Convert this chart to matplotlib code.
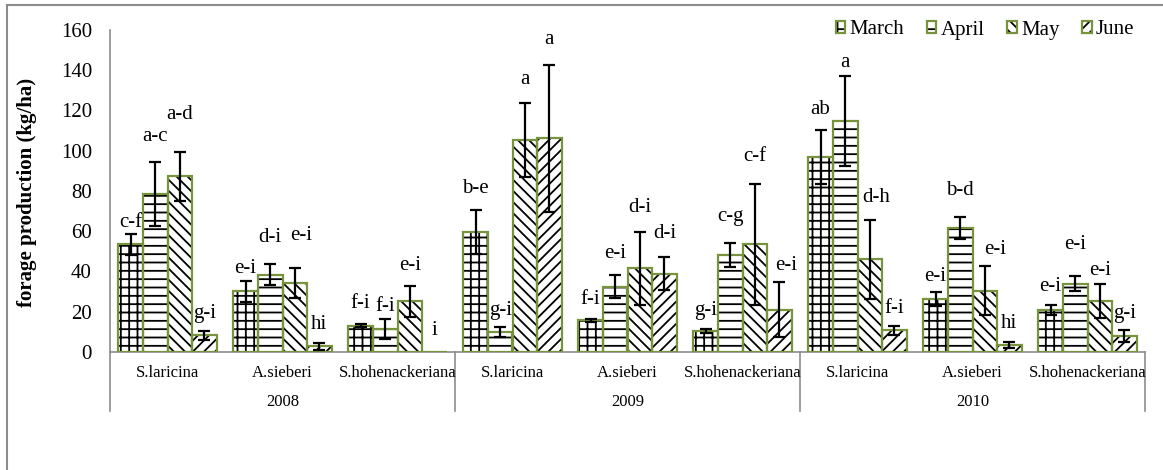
import numpy as np
import matplotlib
matplotlib.use('Agg')
import matplotlib.pyplot as plt
from matplotlib.lines import Line2D
from matplotlib.legend_handler import HandlerTuple
import matplotlib.transforms as mtransforms

plt.rcParams['font.family'] = ['Liberation Serif', 'DejaVu Serif']
plt.rcParams['hatch.linewidth'] = 1.3

species = ['S.laricina', 'A.sieberi', 'S.hohenackeriana'] * 3
years = ['2008', '2009', '2010']
months = ['March', 'April', 'May', 'June']

march = [53.5, 30.2, 13.0, 59.6, 15.7, 10.2, 96.9, 26.2, 21.1]
april = [78.4, 38.3, 11.4, 9.9, 32.5, 48.2, 114.7, 61.6, 34.0]
may = [87.3, 34.3, 25.2, 105.4, 41.6, 53.5, 46.0, 30.5, 25.4]
june = [8.3, 2.8, 0.0, 106.3, 38.9, 21.0, 10.7, 3.5, 7.8]

march_err = [5.3, 5.2, 0.8, 10.9, 0.9, 1.0, 13.5, 3.4, 2.5]
april_err = [16.0, 5.2, 5.0, 2.6, 5.9, 5.8, 22.4, 5.6, 3.8]
may_err = [12.2, 7.3, 7.6, 18.5, 18.0, 30.0, 19.8, 12.0, 8.3]
june_err = [2.2, 1.7, 0.0, 36.5, 8.2, 13.7, 2.3, 1.7, 3.0]

march_lab = ['c-f', 'e-i', 'f-i', 'b-e', 'f-i', 'g-i', 'ab', 'e-i', 'e-i']
april_lab = ['a-c', 'd-i', 'f-i', 'g-i', 'e-i', 'c-g', 'a', 'b-d', 'e-i']
may_lab = ['a-d', 'e-i', 'e-i', 'a', 'd-i', 'c-f', 'd-h', 'e-i', 'e-i']
june_lab = ['g-i', 'hi', 'i', 'a', 'd-i', 'e-i', 'f-i', 'hi', 'g-i']

# where the letters sit (data units, text centre)
march_ly = [64.4, 41.3, 23.9, 81.2, 25.9, 20.5, 120.3, 37.5, 32.5]
april_ly = [107, 57, 22.6, 20.5, 49, 67.5, 143.9, 80.4, 53.6]
may_ly = [118, 57.8, 42.9, 135.6, 71.6, 96.9, 77, 50.7, 40.4]
june_ly = [19.3, 13.5, 10.7, 155.4, 58.9, 43.2, 21.8, 14.4, 19]

values = [march, april, may, june]
errors = [march_err, april_err, may_err, june_err]
letters = [march_lab, april_lab, may_lab, june_lab]
letter_y = [march_ly, april_ly, may_ly, june_ly]
# a few letters are nudged sideways in the original (in bar widths)
letter_dx = {(2, 1): 0.25, (3, 5): 0.28, (2, 6): 0.26, (2, 7): 0.4}

hatches = ['++', '--', '\\\\\\', '///']
green = '#77933C'
grey = '#8C8C8C'

fig = plt.figure(figsize=(11.63, 4.70), dpi=100)
ax = fig.add_axes([110 / 1163, 1 - 352 / 470, 1035 / 1163, 322 / 470])

x = np.arange(len(species))
w = 0.214
handles = []
for i, m in enumerate(months):
    xs = x + (i - 1.5) * w
    hb = ax.bar(xs, values[i], w, color='white', edgecolor='black',
                hatch=hatches[i], linewidth=0, zorder=2)
    ob = ax.bar(xs, values[i], w, color='none', edgecolor=green,
                linewidth=1.6, zorder=3)
    handles.append((hb[0], ob[0]))
    err = np.array(errors[i])
    keep = err > 0
    ax.errorbar(xs[keep], np.array(values[i])[keep], yerr=err[keep], fmt='none',
                ecolor='black', elinewidth=1.6, capsize=4, capthick=1.6, zorder=4)
    for j in range(len(species)):
        dx = letter_dx.get((i, j), 0) * w
        ax.text(xs[j] + dx, letter_y[i][j], letters[i][j], ha='center',
                va='center', fontsize=15, zorder=5)

ax.set_xlim(-0.5, len(species) - 0.5)
ax.set_ylim(0, 160)
ax.set_yticks(range(0, 161, 20))
ax.tick_params(axis='y', length=0, labelsize=15, pad=13)
ax.set_xticks([])
for s in ['top', 'right']:
    ax.spines[s].set_visible(False)
for s in ['left', 'bottom']:
    ax.spines[s].set_color(grey)
    ax.spines[s].set_linewidth(1.2)
ax.set_ylabel('forage production (kg/ha)', fontsize=15, fontweight='bold')
ax.yaxis.set_label_coords(-0.071, 0.495)

trans = mtransforms.blended_transform_factory(ax.transData, ax.transAxes)
for j, sp in enumerate(species):
    ax.text(j, -0.065, sp, transform=trans, ha='center', va='center', fontsize=12)
for k, yr in enumerate(years):
    ax.text(3 * k + 1, -0.155, yr, transform=trans, ha='center', va='center', fontsize=12)
for b in [-0.5, 2.5, 5.5, 8.5]:
    ax.plot([b, b], [0, -0.183], transform=trans, color=grey, lw=1.2, clip_on=False)

ax.legend(handles, months, handler_map={tuple: HandlerTuple(ndivide=1, pad=0)},
          loc='center', bbox_to_anchor=(985 / 1163, 1 - 30 / 470),
          bbox_transform=fig.transFigure, ncol=4, frameon=False, fontsize=15,
          handlelength=0.45, handleheight=0.45, handletextpad=0.2, columnspacing=1.1)

# outer chart-area frame (cut by the image edge)
x0, y0 = 7 / 1163, 1 - 5 / 470
fig.add_artist(Line2D([x0, 1.0], [y0, y0], transform=fig.transFigure, color=grey, lw=1.5))
fig.add_artist(Line2D([x0, x0], [y0, 0.0], transform=fig.transFigure, color=grey, lw=1.5))

fig.savefig('out.png', dpi=100)
